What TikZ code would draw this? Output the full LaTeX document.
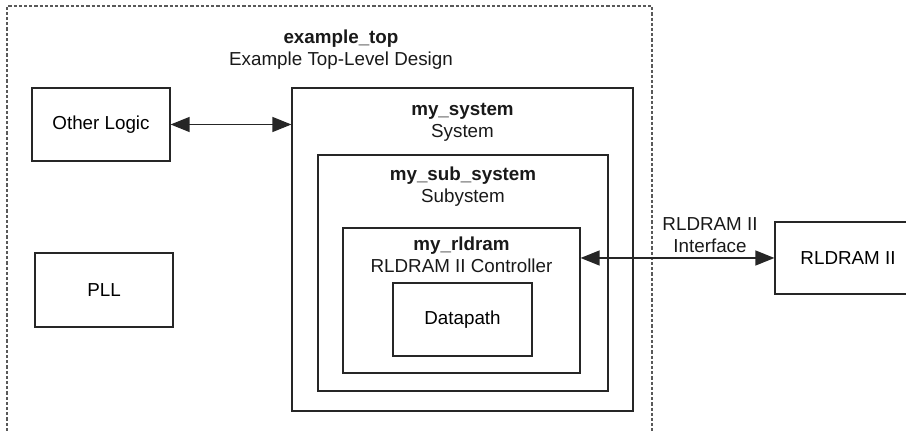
\documentclass[tikz,border=0pt]{standalone}
\usepackage{fontspec}
\setmainfont{Liberation Sans}
\usetikzlibrary{arrows.meta,positioning}

\tikzset{
	blk/.style={draw=black!85, line width=0.6pt, rectangle, inner sep=0pt},
	ttl/.style={align=center, text=black!90, inner sep=0pt},
	dbl/.style={line width=0.65pt, draw=black!85, {Triangle[length=9.5pt,width=7.5pt]}-{Triangle[length=9.5pt,width=7.5pt]}}
}

\begin{document}
\begin{tikzpicture}[x=0.5pt, y=-0.5pt, font=\fontsize{9.4}{10.9}\selectfont]
		\useasboundingbox (0,0) rectangle (906,431);
		% top level (dashed, runs off the bottom)
		\draw[gray!70!black, line width=0.6pt, dash pattern=on 1.6pt off 1pt]
		(7,431) -- (7,6) -- (652,6) -- (652,431);
		\node[ttl] (top) at (341,49.5) {\textbf{example\_top}\\Example Top-Level Design};
		% blocks
		\node[blk, minimum width=69pt, minimum height=36.5pt] (other) at (101,124.5) {Other Logic};
		\node[blk, minimum width=69pt, minimum height=37pt] (pll) at (104,290) {PLL};
		\node[blk, minimum width=170.5pt, minimum height=161.5pt] (sys) at (462.5,249.5) {};
		\node[blk, minimum width=145pt, minimum height=118pt] (sub) at (463,273) {};
		\node[blk, minimum width=118.5pt, minimum height=72.5pt] (rld) at (461.5,300.5) {};
		\node[blk, minimum width=69.5pt, minimum height=36.5pt] (dp) at (462.5,319.5) {Datapath};
		\node[blk, minimum width=73pt, minimum height=36pt] (mem) at (848,258) {RLDRAM II};
		% titles
		\node[ttl] (systtl) at (462.5,122.5) {\textbf{my\_system}\\System};
		\node[ttl] (subttl) at (463,186.5) {\textbf{my\_sub\_system}\\Subystem};
		\node[ttl] (rldttl) at (461.5,254.5) {\textbf{my\_rldram}\\RLDRAM II Controller};
		% connections
		\draw[dbl] (other.east) -- (other.east -| sys.west);
		\draw[dbl] (rld.east |- mem.west) -- (mem.west);
		\node[ttl] (iface) at (710,235) {RLDRAM II\\Interface};
		\end{tikzpicture}
\end{document}
